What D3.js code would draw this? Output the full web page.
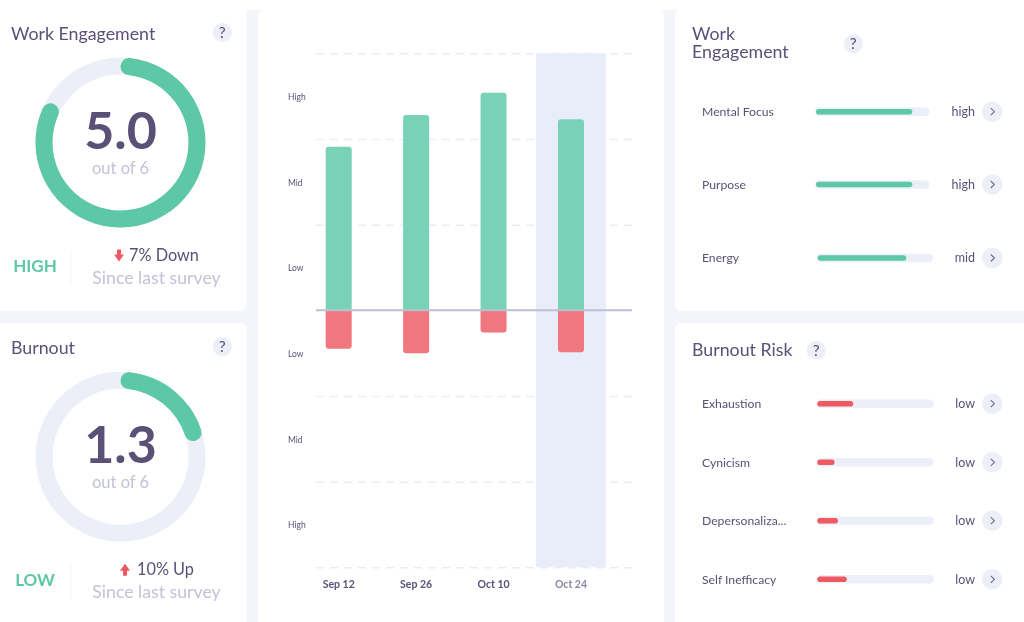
<!doctype html>
<html>
  <head>
    <script src="https://cdnjs.cloudflare.com/ajax/libs/d3/7.8.5/d3.min.js"></script>
    <style>
      html, body { margin: 0; padding: 0; background: #fff; overflow: hidden; }
      svg { display: block; filter: blur(0.35px); }
      text { font-family: Lato, sans-serif; fill: #5b5076; }
      .title { font-size: 17.8px; }
      .grey { fill: #c1c3d7; }
      .axis path { display: none; }
      .axis line { stroke: none; }
      .grid line { stroke: #e9edf8; stroke-width: 1.5; stroke-dasharray: 8 6; }
      .grid path { display: none; }
      .grid text { display: none; }
    </style>
  </head>
  <body>
    <svg width="1024" height="622"></svg>
    <script>
      // gauges
      var gaugeNames = ["Work Engagement", "Burnout"];
      var gaugeScores = [5.0, 1.3];
      var gaugeLevels = ["HIGH", "LOW"];
      var gaugeChanges = ["7% Down", "10% Up"];

      // middle chart
      var surveyDates = ["Sep 12", "Sep 26", "Oct 10", "Oct 24"];
      var engagementValues = [1.91, 2.28, 2.54, 2.23];
      var burnoutValues = [0.45, 0.50, 0.26, 0.49];
      var levelTicks = [2.5, 1.5, 0.5, -0.5, -1.5, -2.5];
      var levelLabels = ["High", "Mid", "Low", "Low", "Mid", "High"];
      var gridTicks = [3, 2, 1, -1, -2, -3];

      // right side lists
      var engagementFactors = ["Mental Focus", "Purpose", "Energy"];
      var engagementShares = [0.85, 0.85, 0.77];
      var engagementLevels = ["high", "high", "mid"];
      var burnoutFactors = ["Exhaustion", "Cynicism", "Depersonaliza...", "Self Inefficacy"];
      var burnoutShares = [0.315, 0.155, 0.185, 0.26];
      var burnoutLevels = ["low", "low", "low", "low"];

      var green = "#5cc8a5", red = "#ef5a62", track = "#eceff7";

      var svg = d3.select("svg");

      // page background and cards
      svg.append("rect").attr("x", 0).attr("y", 10).attr("width", 1024).attr("height", 612).attr("fill", "#f3f5fb");
      var cards = [[-10, 0, 256.5, 311], [-10, 323, 256.5, 320], [258, 10, 406, 630], [675, 10, 370, 301], [675, 323, 370, 320]];
      svg.selectAll("rect.card").data(cards).enter().append("rect")
        .attr("class", "card")
        .attr("x", d => d[0]).attr("y", d => d[1])
        .attr("width", d => d[2]).attr("height", d => d[3])
        .attr("rx", 5).attr("fill", "#fff");

      function helpBubble(x, y) {
        svg.append("circle").attr("cx", x).attr("cy", y).attr("r", 9.5).attr("fill", track);
        svg.append("text").attr("x", x).attr("y", y + 5.5).attr("text-anchor", "middle")
          .style("font-size", "15.5px").text("?");
      }

      // left gauges
      var angle = d3.scaleLinear().domain([0, 6]).range([0, 2 * Math.PI]);
      var gaugeArc = d3.arc().innerRadius(68).outerRadius(85).cornerRadius(8.5).startAngle(0);
      var gaugeY = [142.5, 456.7];
      var changeArrowX = [119, 125];
      var changeTextX = [129, 137];

      gaugeNames.forEach((name, i) => {
        var cy = gaugeY[i];
        svg.append("text").attr("class", "title").attr("x", 11).attr("y", cy - 103).text(name);
        helpBubble(222.3, cy - 110);

        var g = svg.append("g").attr("transform", "translate(120.5," + cy + ")");
        g.append("path").attr("fill", track).attr("d", gaugeArc.endAngle(2 * Math.PI)());
        g.append("path").attr("fill", green).attr("d", gaugeArc.endAngle(angle(gaugeScores[i]))());
        g.append("text").attr("y", 6).attr("text-anchor", "middle")
          .style("font-size", "52px").style("font-weight", 700).text(gaugeScores[i].toFixed(1));
        g.append("text").attr("y", 31).attr("class", "grey").attr("text-anchor", "middle")
          .style("font-size", "16.5px").text("out of 6");

        svg.append("text").attr("x", 35).attr("y", cy + 129.5).attr("text-anchor", "middle")
          .style("fill", green).style("font-size", "17px").style("font-weight", 700)
          .text(gaugeLevels[i]);
        svg.append("line").attr("x1", 71).attr("x2", 71).attr("y1", cy + 108).attr("y2", cy + 142)
          .attr("stroke", "#f3f4f9");

        // up or down arrow next to the change
        var dir = i == 0 ? 1 : -1;
        svg.append("path")
          .attr("transform", "translate(" + changeArrowX[i] + "," + (cy + 113) + ") scale(1," + dir + ")")
          .attr("fill", red)
          .attr("d", "M-2,-6H2V-1H5L0,6L-5,-1H-2Z");
        svg.append("text").attr("x", changeTextX[i]).attr("y", cy + 118.5)
          .style("font-size", "16.3px").text(gaugeChanges[i]);
        svg.append("text").attr("class", "grey").attr("x", 156.5).attr("y", cy + 141.5).attr("text-anchor", "middle")
          .style("font-size", "17.7px").text("Since last survey");
      });

      // middle chart
      var x = d3.scaleBand().domain(surveyDates).range([325.7, 584]).paddingInner(0.664).paddingOuter(0);
      var y = d3.scaleLinear().domain([-3, 3]).range([567.3, 53.3]);
      var chart = svg.append("g");

      chart.append("rect")
        .attr("x", x("Oct 24") + x.bandwidth() / 2 - 35).attr("width", 70)
        .attr("y", y(3)).attr("height", y(-3) - y(3))
        .attr("fill", "#e9edfa");

      chart.append("g").attr("class", "grid")
        .attr("transform", "translate(316,0)")
        .call(d3.axisLeft(y).tickValues(gridTicks).tickSize(-316));

      // rounded only on the end away from the baseline
      function barPath(d, i, sign) {
        var x0 = x(surveyDates[i]), w = x.bandwidth(), y0 = y(0), y1 = y(sign * d), r = 3;
        return "M" + x0 + "," + y0 + "V" + (y1 + sign * r)
          + "Q" + x0 + "," + y1 + " " + (x0 + r) + "," + y1
          + "H" + (x0 + w - r)
          + "Q" + (x0 + w) + "," + y1 + " " + (x0 + w) + "," + (y1 + sign * r)
          + "V" + y0 + "Z";
      }

      chart.selectAll("path.up").data(engagementValues).enter().append("path")
        .attr("class", "up").attr("fill", "#79d2b5").attr("d", (d, i) => barPath(d, i, 1));
      chart.selectAll("path.down").data(burnoutValues).enter().append("path")
        .attr("class", "down").attr("fill", "#f0777d").attr("d", (d, i) => barPath(d, i, -1));

      chart.append("line").attr("x1", 316).attr("x2", 632).attr("y1", y(0)).attr("y2", y(0))
        .attr("stroke", "#bdbfd3").attr("stroke-width", 2);

      chart.append("g").attr("class", "axis")
        .attr("transform", "translate(307,0.7)")
        .call(d3.axisLeft(y).tickValues(levelTicks).tickSize(0).tickPadding(0)
          .tickFormat((d, i) => levelLabels[i]))
        .selectAll("text")
          .attr("text-anchor", "start").attr("x", -19)
          .style("font-size", "8.5px");

      chart.append("g").attr("class", "axis")
        .attr("transform", "translate(0,578)")
        .call(d3.axisBottom(x).tickSize(0).tickPadding(3))
        .selectAll("text")
          .style("font-size", "10.5px").style("font-weight", 700)
          .style("fill", d => d == "Oct 24" ? "#8a86a0" : "#5b5076");

      // right side lists, the tracks are not all the same width
      function factorList(names, shares, levels, rows, starts, ends) {
        names.forEach((name, i) => {
          var cy = rows[i];
          var bar = d3.scaleLinear().domain([0, 1]).range([starts[i], ends[i]]);
          var color = levels[i] == "low" ? red : green;
          svg.append("text").attr("x", 702).attr("y", cy + 4.3).style("font-size", "12.2px").text(name);
          svg.append("rect").attr("x", bar(0)).attr("y", cy - 4.2).attr("width", bar(1) - bar(0)).attr("height", 8.4)
            .attr("rx", 4.2).attr("fill", track);
          svg.append("rect").attr("x", bar(0) + 1).attr("y", cy - 2.8).attr("width", bar(shares[i]) - bar(0) - 1).attr("height", 5.6)
            .attr("rx", 2.8).attr("fill", color);
          svg.append("text").attr("x", 975).attr("y", cy + 4.3).attr("text-anchor", "end")
            .style("font-size", "12.5px").text(levels[i]);
          svg.append("circle").attr("cx", 992.3).attr("cy", cy).attr("r", 10.3).attr("fill", track);
          svg.append("path").attr("d", "M-1.8,-3.5L1.8,0L-1.8,3.5")
            .attr("transform", "translate(992.6," + cy + ")")
            .attr("fill", "none").attr("stroke", "#6f6a88").attr("stroke-width", 1.1);
        });
      }

      var wrapped = svg.append("text").attr("class", "title");
      wrapped.append("tspan").attr("x", 692).attr("y", 40).text("Work");
      wrapped.append("tspan").attr("x", 692).attr("y", 58).text("Engagement");
      helpBubble(853.3, 43.7);
      factorList(engagementFactors, engagementShares, engagementLevels, [111.7, 184.5, 258],
        [815, 815, 816.7], [929.5, 929.5, 933]);

      svg.append("text").attr("class", "title").attr("x", 692).attr("y", 355.5).text("Burnout Risk");
      helpBubble(816.3, 350.3);
      factorList(burnoutFactors, burnoutShares, burnoutLevels, [403.7, 462.3, 520.7, 579.3],
        [816.3, 816.3, 816.3, 816.3], [933.7, 933.7, 933.7, 933.7]);
    </script>
  </body>
</html>
